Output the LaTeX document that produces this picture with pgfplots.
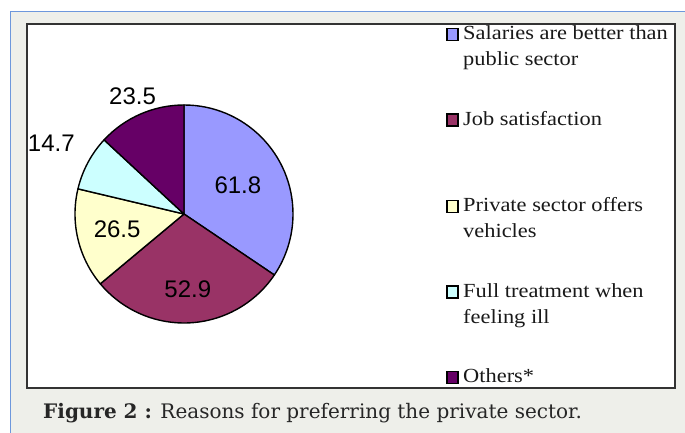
\documentclass[border=0pt]{standalone}
\usepackage{pgfplots}
\usepackage{pgfplotstable}
\pgfplotsset{compat=1.18}
\usepackage{fontspec}
\setmainfont{Liberation Serif}
\newfontfamily\labelfont{Liberation Sans}
\newfontfamily\capfont{DejaVu Serif}
\definecolor{c0}{HTML}{9999FF}
\definecolor{c1}{HTML}{993366}
\definecolor{c2}{HTML}{FFFFCC}
\definecolor{c3}{HTML}{CCFFFF}
\definecolor{c4}{HTML}{660066}
\definecolor{cardgray}{HTML}{EEEFEA}
\definecolor{cardblue}{HTML}{6D97DC}
\definecolor{boxline}{HTML}{333333}
% value = percentage shown on the slice, r = label distance (fraction of radius)
\pgfplotstableread{
idx value r
0 61.8 0.56
1 52.9 0.69
2 26.5 0.63
3 14.7 1.38
4 23.5 1.18
}\piedata
\gdef\tot{0}%
\foreach \i in {0,...,4}{%
  \pgfplotstablegetelem{\i}{value}\of\piedata
  \pgfmathsetmacro\t{\tot+\pgfplotsretval}%
  \xdef\tot{\t}%
}%
\gdef\cum{0}%
\foreach \i in {0,...,4}{%
  \pgfplotstablegetelem{\i}{value}\of\piedata
  \expandafter\xdef\csname v\i\endcsname{\pgfplotsretval}%
  \pgfmathsetmacro\sa{90-(\cum/\tot)*360}%
  \pgfmathsetmacro\ea{90-((\cum+\pgfplotsretval)/\tot)*360}%
  \pgfmathsetmacro\ma{(\sa+\ea)/2}%
  \pgfmathsetmacro\c{\cum+\pgfplotsretval}%
  \xdef\cum{\c}%
  \expandafter\xdef\csname s\i\endcsname{\sa}%
  \expandafter\xdef\csname e\i\endcsname{\ea}%
  \expandafter\xdef\csname m\i\endcsname{\ma}%
  \pgfplotstablegetelem{\i}{r}\of\piedata
  \expandafter\xdef\csname r\i\endcsname{\pgfplotsretval}%
}%
\newcommand\legtext[1]{\scalebox{1.12}[1]{\fontsize{20}{20}\selectfont #1}}
\begin{document}
\begin{tikzpicture}[x=1pt,y=1pt]
\fill[white] (0,0) rectangle (685,433);
\fill[cardgray] (10,0) rectangle (685,421.5);
\draw[cardblue, line width=1pt] (10,0) -- (10,421.5) -- (685,421.5);
\draw[boxline, fill=white, line width=2pt] (27,45) rectangle (675,409);
\begin{axis}[at={(184pt,219pt)}, anchor=center, width=218pt, height=218pt,
  scale only axis, xmin=-1, xmax=1, ymin=-1, ymax=1, hide axis, clip=false]
\pgfplotsinvokeforeach{0,...,4}{%
  \filldraw[fill=c#1, draw=black, line width=1.4pt, line join=round]
    (axis cs:0,0) -- (axis cs:{cos(\csname s#1\endcsname)},{sin(\csname s#1\endcsname)})
    arc[start angle=\csname s#1\endcsname, end angle=\csname e#1\endcsname, radius=109pt] -- cycle;
}
\pgfplotsinvokeforeach{0,...,4}{%
  \node[font=\labelfont\fontsize{24}{24}\selectfont, text=black, inner sep=0pt]
    at (axis cs:{\csname r#1\endcsname*cos(\csname m#1\endcsname)},{\csname r#1\endcsname*sin(\csname m#1\endcsname)})
    {\csname v#1\endcsname};
}
\end{axis}
% legend
\foreach \col/\by/\la/\lb in {c0/40/Salaries are better than/public sector,
  c1/125.5/Job satisfaction/,
  c2/212/Private sector offers/vehicles,
  c3/297.5/Full treatment when/feeling ill,
  c4/383/Others*/}{%
  \filldraw[fill=\col, draw=black, line width=1.6pt] (447,{433-\by-0.5}) rectangle (458,{433-\by+11.5});
  \node[anchor=base west, inner sep=0pt, text=black!90] at (463,{433-\by}) {\legtext{\la}};
  \node[anchor=base west, inner sep=0pt, text=black!90] at (463,{433-\by-26}) {\legtext{\lb}};
}
\node[anchor=base west, inner sep=0pt, text=black!85] at (43,14)
  {\capfont\fontsize{20}{20}\selectfont\textbf{Figure 2 :} Reasons for preferring the private sector.};
\pgfresetboundingbox
\useasboundingbox (0,0) rectangle (685,433);
\end{tikzpicture}
\end{document}
